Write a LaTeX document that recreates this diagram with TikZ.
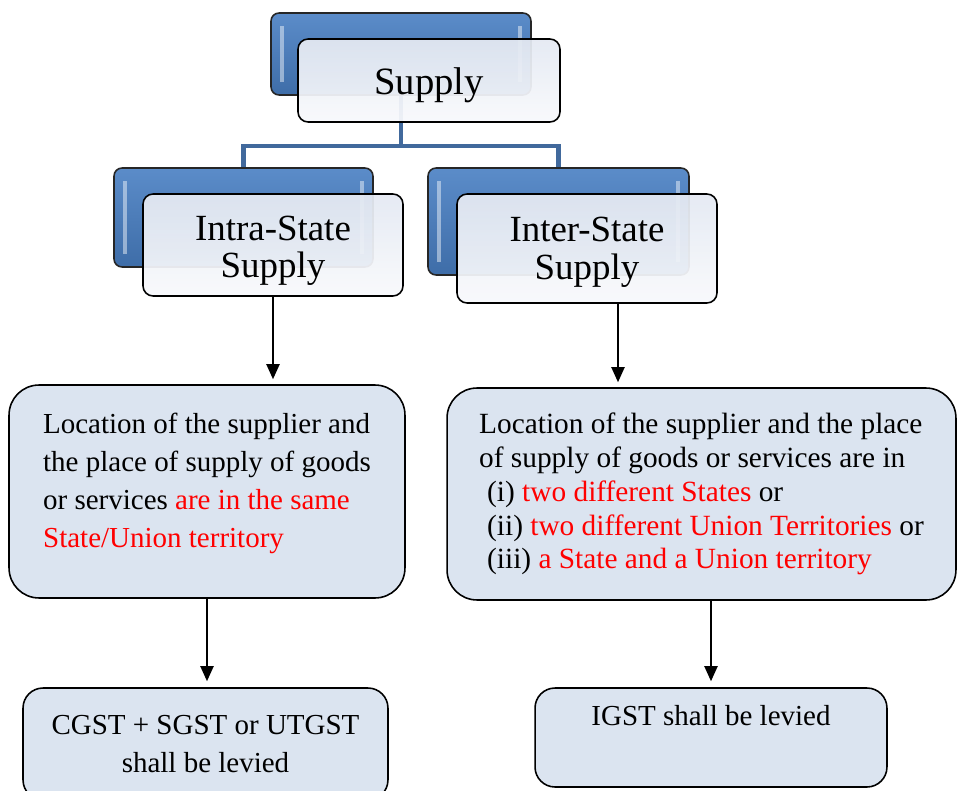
\documentclass[tikz,border=0pt]{standalone}
\usepackage{fontspec}
\setmainfont{Liberation Serif}
\usetikzlibrary{arrows.meta,calc}

\definecolor{tierTop}{HTML}{5B8CC9}
\definecolor{tierBot}{HTML}{3E6DA8}
\definecolor{frontTop}{HTML}{E4E9F2}
\definecolor{frontBot}{HTML}{F8F9FC}
\definecolor{boxFill}{HTML}{DBE4F0}
\definecolor{busBlue}{HTML}{41699C}
\definecolor{hl}{HTML}{FF0000}

\tikzset{
  backbox/.style={draw=black!85, line width=0.9pt, rounded corners=0.16cm,
    top color=tierTop, bottom color=tierBot,
    path picture={
      \fill[white, opacity=0.45, sharp corners]
        ([xshift=0.17cm,yshift=-0.26cm]path picture bounding box.north west)
        rectangle ([xshift=0.25cm,yshift=0.26cm]path picture bounding box.south west);
      \fill[white, opacity=0.45, sharp corners]
        ([xshift=-0.17cm,yshift=-0.26cm]path picture bounding box.north east)
        rectangle ([xshift=-0.25cm,yshift=0.26cm]path picture bounding box.south east);
    }},
  frontbox/.style={draw=black, line width=0.9pt, rounded corners=0.2cm,
    top color=frontTop, bottom color=frontBot, fill opacity=0.94, text opacity=1,
    align=center, font=\fontsize{21}{21.5}\selectfont},
  infobox/.style={draw=black, line width=0.9pt, fill=boxFill, rounded corners=0.6cm,
    align=left},
  resultbox/.style={draw=black, line width=0.9pt, fill=boxFill, rounded corners=0.4cm,
    align=center, font=\fontsize{16.5}{19}\selectfont},
  bus/.style={draw=busBlue, line width=2.8pt},
  arr/.style={draw=black, line width=1.1pt, -{Triangle[length=0.3cm,width=0.26cm]}}
}

\begin{document}
\begin{tikzpicture}[x=0.02cm,y=-0.02cm]
\useasboundingbox (0,0) rectangle (957,791);

% blue tier boxes behind
\node[backbox, minimum width=5.2cm, minimum height=1.64cm] (supB) at (401,54) {};
\node[backbox, minimum width=5.18cm, minimum height=1.98cm] (intraB) at (243.5,217.5) {};
\node[backbox, minimum width=5.22cm, minimum height=2.14cm] (interB) at (558.5,221.5) {};

% tree connector
\coordinate (split) at (401,146);
\draw[bus] (supB.south) -- (split);
\draw[bus] (intraB.north) |- (split) -| (interB.north);

% front label boxes
\node[frontbox, minimum width=5.24cm, minimum height=1.66cm, text height=20.5pt,
      font=\fontsize{22}{24}\selectfont] (supF) at (429,80.5) {Supply};
\node[frontbox, minimum width=5.2cm, minimum height=2.04cm, text height=42pt] (intraF) at (273,245) {Intra-State\\Supply};
\node[frontbox, minimum width=5.2cm, minimum height=2.18cm, text height=39.5pt] (interF) at (587,248.5) {Inter-State\\Supply};

% location boxes
\node[infobox, minimum width=7.92cm, minimum height=4.26cm, text depth=12.7pt,
      font=\fontsize{16.5}{21.6}\selectfont] (locL) at (207,491.5)
  {Location of the supplier and\\
   the place of supply of goods\\
   or services \textcolor{hl}{are in the same}\\
   \textcolor{hl}{State/Union territory}};

\node[infobox, minimum width=10.18cm, minimum height=4.24cm,
      font=\fontsize{16.7}{19.3}\selectfont] (locR) at (701.5,494)
  {Location of the supplier and the place\\
   of supply of goods or services are in\\
   \hspace{0.16cm}(i) \textcolor{hl}{two different States} or\\
   \hspace{0.16cm}(ii) \textcolor{hl}{two different Union Territories} or\\
   \hspace{0.16cm}(iii) \textcolor{hl}{a State and a Union territory}};

% result boxes
\node[resultbox, minimum width=7.3cm, minimum height=2.24cm,
      font=\fontsize{16.5}{21.6}\selectfont] (botL) at (205.5,744)
  {CGST + SGST or UTGST\\shall be levied};
\node[resultbox, minimum width=7.04cm, minimum height=1.98cm] (botR) at (711,737.5)
  {IGST shall be levied\\\strut};

% arrows
\draw[arr, shorten >=0.1cm] (intraF.south) -- (intraF.south |- locL.north);
\coordinate (rdrop) at ($(interF.south)+(31,0)$);
\draw[arr, shorten >=0.1cm] (rdrop) -- (rdrop |- locR.north);
\draw[arr, shorten >=0.12cm] (locL.south) -- (locL.south |- botL.north);
\draw[arr, shorten >=0.12cm] (botR.north |- locR.south) -- (botR.north);
\end{tikzpicture}
\end{document}
